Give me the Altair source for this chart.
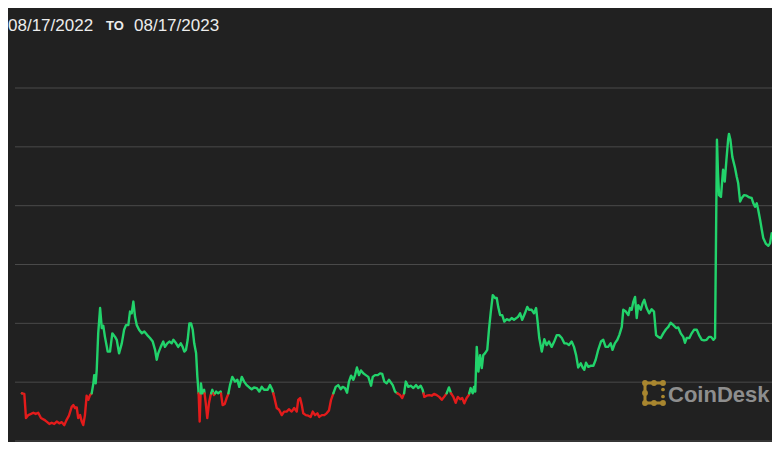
import altair as alt
import pandas as pd

# ---------------- data ----------------
start_label = "08/17/2022"
to_label = "TO"
end_label = "08/17/2023"
brand = "CoinDesk"
start_date = "2022-08-17"

# day offsets from 2022-08-17
days = [
    0, 1.1, 1.9, 3.0, 4.3, 5.4, 6.5, 7.7, 9.0, 10.6, 11.7, 13.0, 14.1, 15.3, 16.5, 17.7, 18.9, 20.1,
    21.2, 22.3, 23.6, 24.4, 25.2, 26.0, 26.7, 27.6, 28.4, 29.1, 29.9, 30.7, 31.5, 32.3, 33.1, 33.9,
    34.3, 35.0, 35.5, 36.2, 37.1, 37.9, 38.6, 39.4, 40.7, 41.8, 42.9, 44.2, 45.0, 46.1, 47.4, 48.5,
    49.4, 50.5, 51.3, 52.1, 52.9, 53.7, 54.5, 55.6, 56.9, 58.1, 59.5, 60.8, 62.1, 63.2, 64.0, 64.7,
    65.9, 67.1, 67.9, 69.0, 70.0, 71.1, 71.9, 73.2, 74.2, 75.4, 76.3, 77.1, 77.9, 78.7, 79.5, 80.3,
    81.1, 81.8, 82.7, 83.3, 83.9, 84.4, 85.0, 85.6, 86.5, 87.3, 88.0, 88.8, 89.6, 90.4, 91.2, 92.2,
    93.2, 94.4, 95.3, 96.3, 97.2, 98.0, 98.8, 99.9, 101.2, 102.3, 103.2, 104.4, 105.5, 106.7, 108.0,
    109.1, 110.2, 111.5, 112.7, 113.9, 115.0, 116.7, 117.8, 118.9, 119.8, 121.0, 122.1, 123.4, 124.5,
    125.7, 126.8, 128.1, 129.3, 130.5, 131.2, 132.1, 132.9, 133.6, 134.8, 136.0, 137.1, 138.1, 139.2,
    140.3, 141.2, 142.4, 143.6, 144.7, 145.8, 146.8, 147.9, 149.0, 150.2, 151.4, 152.3, 153.4, 154.4,
    155.3, 156.3, 157.4, 158.2, 159.1, 160.1, 161.0, 162.1, 163.3, 164.5, 165.8, 166.6, 167.7, 169.0,
    170.1, 171.1, 172.1, 173.2, 174.3, 176.1, 177.2, 178.3, 179.6, 180.6, 181.5, 182.3, 183.5, 184.6,
    185.9, 187.2, 188.2, 189.4, 190.3, 191.1, 192.2, 193.5, 194.6, 195.7, 197.0, 198.2, 199.4, 200.5,
    201.7, 202.8, 203.8, 204.9, 206.0, 207.0, 208.1, 209.1, 210.1, 211.2, 212.2, 213.1, 214.1, 214.7,
    215.3, 216.0, 216.8, 217.6, 218.4, 219.1, 219.9, 221.0, 221.8, 222.6, 223.6, 224.7, 225.5, 226.2,
    227.1, 228.1, 229.1, 230.2, 231.5, 232.6, 233.7, 235.6, 236.6, 237.6, 238.9, 240.0, 240.9, 242.1,
    243.2, 244.2, 245.0, 245.7, 246.9, 248.1, 249.2, 250.3, 251.6, 252.8, 254.0, 255.1, 256.4, 257.6,
    258.7, 259.8, 261.1, 262.2, 263.2, 264.2, 265.4, 266.3, 267.1, 267.9, 269.0, 270.3, 271.4, 272.5,
    273.7, 275.0, 276.1, 277.2, 278.4, 279.6, 280.5, 281.6, 282.8, 283.7, 284.9, 285.6, 286.8, 288.0,
    288.8, 289.6, 290.4, 291.2, 292.0, 292.7, 293.9, 294.8, 295.6, 296.7, 297.9, 299.1, 300.2, 301.2,
    302.2, 303.4, 304.6, 305.9, 307.0, 308.1, 309.4, 310.7, 311.7, 312.9, 314.1, 314.9, 315.7, 317.0,
    318.1, 319.2, 320.5, 321.6, 322.9, 324.0, 325.2, 326.3, 327.3, 328.4, 329.2, 330.1, 330.6, 331.1,
    332.0, 333.0, 333.8, 334.6, 335.4, 335.8, 336.5, 337.4, 338.7, 339.5, 340.2, 341.1, 341.9, 343.0,
    344.2, 345.5, 346.6, 347.4, 348.2, 349.0, 349.7, 350.6, 351.4, 352.1, 353.4, 354.5, 355.3, 356.1,
    356.9, 357.7, 358.8, 360.1,
]

prices = [
    0.381, 0.380, 0.339, 0.344, 0.346, 0.348, 0.346, 0.348, 0.339, 0.336, 0.333, 0.329, 0.331, 0.329,
    0.333, 0.330, 0.332, 0.327, 0.336, 0.343, 0.358, 0.361, 0.356, 0.357, 0.339, 0.344, 0.333, 0.327,
    0.344, 0.377, 0.370, 0.378, 0.381, 0.398, 0.412, 0.398, 0.421, 0.483, 0.526, 0.492, 0.496, 0.477,
    0.452, 0.452, 0.483, 0.477, 0.472, 0.449, 0.466, 0.489, 0.497, 0.497, 0.520, 0.517, 0.537, 0.511,
    0.497, 0.489, 0.483, 0.486, 0.480, 0.475, 0.469, 0.455, 0.438, 0.449, 0.460, 0.469, 0.460, 0.466,
    0.469, 0.466, 0.472, 0.466, 0.460, 0.466, 0.460, 0.452, 0.455, 0.472, 0.500, 0.500, 0.489, 0.466,
    0.449, 0.409, 0.381, 0.333, 0.398, 0.381, 0.387, 0.364, 0.339, 0.364, 0.378, 0.387, 0.378, 0.384,
    0.381, 0.384, 0.361, 0.363, 0.373, 0.380, 0.395, 0.409, 0.401, 0.404, 0.392, 0.409, 0.401, 0.395,
    0.391, 0.388, 0.391, 0.390, 0.384, 0.392, 0.387, 0.387, 0.395, 0.387, 0.375, 0.356, 0.353, 0.344,
    0.350, 0.350, 0.354, 0.350, 0.356, 0.350, 0.370, 0.373, 0.361, 0.347, 0.344, 0.343, 0.341, 0.350,
    0.344, 0.347, 0.341, 0.344, 0.344, 0.347, 0.352, 0.370, 0.381, 0.392, 0.395, 0.388, 0.392, 0.390,
    0.382, 0.401, 0.411, 0.404, 0.412, 0.425, 0.412, 0.420, 0.415, 0.412, 0.409, 0.394, 0.409, 0.412,
    0.412, 0.415, 0.414, 0.401, 0.398, 0.404, 0.395, 0.384, 0.381, 0.378, 0.373, 0.381, 0.401, 0.392,
    0.394, 0.390, 0.395, 0.390, 0.394, 0.387, 0.375, 0.377, 0.378, 0.377, 0.380, 0.378, 0.375, 0.370,
    0.375, 0.381, 0.391, 0.381, 0.375, 0.365, 0.375, 0.371, 0.373, 0.364, 0.373, 0.378, 0.390, 0.381,
    0.392, 0.384, 0.460, 0.418, 0.446, 0.424, 0.446, 0.449, 0.455, 0.489, 0.517, 0.548, 0.543, 0.543,
    0.528, 0.514, 0.514, 0.503, 0.507, 0.505, 0.509, 0.506, 0.511, 0.517, 0.506, 0.517, 0.528, 0.523,
    0.523, 0.517, 0.526, 0.500, 0.475, 0.452, 0.473, 0.463, 0.469, 0.460, 0.469, 0.480, 0.480, 0.475,
    0.466, 0.466, 0.463, 0.469, 0.460, 0.446, 0.425, 0.432, 0.425, 0.421, 0.433, 0.426, 0.428, 0.428,
    0.438, 0.455, 0.469, 0.472, 0.460, 0.460, 0.466, 0.455, 0.466, 0.472, 0.480, 0.494, 0.523, 0.520,
    0.514, 0.526, 0.523, 0.537, 0.545, 0.509, 0.531, 0.523, 0.534, 0.540, 0.526, 0.517, 0.524, 0.520,
    0.480, 0.477, 0.475, 0.483, 0.490, 0.494, 0.501, 0.497, 0.492, 0.493, 0.483, 0.477, 0.467, 0.475,
    0.475, 0.483, 0.489, 0.489, 0.480, 0.472, 0.471, 0.472, 0.477, 0.477, 0.472, 0.475, 0.812, 0.755,
    0.718, 0.715, 0.761, 0.741, 0.778, 0.812, 0.822, 0.812, 0.783, 0.764, 0.749, 0.738, 0.707, 0.713,
    0.718, 0.717, 0.714, 0.713, 0.704, 0.698, 0.704, 0.693, 0.676, 0.659, 0.645, 0.635, 0.632, 0.636,
    0.653, 0.647, 0.642, 0.639, 0.635,
]

grid_values = [0.3, 0.4, 0.5, 0.6, 0.7, 0.8, 0.9]

# ---------------- styling ----------------
BG = "#212121"
GREEN = "#22d36b"
RED = "#e31b1b"
GRID = "#4a4a4a"
TEXT = "#ececec"
GOLD = "#a8862f"
BRAND_GREY = "#8e8e8e"
FONT = "Liberation Sans"

W, H = 764, 434
DAY_MS = 86400000
t0 = pd.Timestamp(start_date).value // 10**6

# split the series where it crosses the opening price, so each run gets one colour
base = prices[0]


def side(v):
    return "up" if v >= base else "down"


rows = []
run = 0
cur = side(prices[0])
rows.append({"t": t0 + days[0] * DAY_MS, "price": prices[0], "run": run, "side": cur})
for i in range(1, len(days)):
    d0, v0, d1, v1 = days[i - 1], prices[i - 1], days[i], prices[i]
    s1 = side(v1)
    if s1 != cur:
        f = (base - v0) / (v1 - v0)
        dc = d0 + f * (d1 - d0)
        rows.append({"t": t0 + dc * DAY_MS, "price": base, "run": run, "side": cur})
        run += 1
        cur = s1
        rows.append({"t": t0 + dc * DAY_MS, "price": base, "run": run, "side": cur})
    rows.append({"t": t0 + d1 * DAY_MS, "price": v1, "run": run, "side": cur})
df = pd.DataFrame(rows)

x_scale = alt.Scale(domain=[t0 - 6.65 * DAY_MS, t0 + 356.25 * DAY_MS])
y_scale = alt.Scale(domain=[0.2983, 1.036], zero=False, nice=False)

grid = alt.Chart(pd.DataFrame({"price": grid_values})).mark_rule(
    color=GRID, strokeWidth=1
).encode(
    y=alt.Y("price:Q", scale=y_scale, axis=None),
    x=alt.value(7),
    x2=alt.value(W),
)

line = alt.Chart(df).mark_line(
    strokeWidth=2.4, clip=True, strokeJoin="round", strokeCap="round"
).encode(
    x=alt.X("t:T", scale=x_scale, axis=None),
    y=alt.Y("price:Q", scale=y_scale, axis=None),
    detail="run:N",
    color=alt.Color(
        "side:N",
        scale=alt.Scale(domain=["up", "down"], range=[GREEN, RED]),
        legend=None,
    ),
)


def label(txt, x, y, size, weight="normal", color=TEXT):
    return alt.Chart(pd.DataFrame({"label": [txt]})).mark_text(
        align="left", baseline="alphabetic", font=FONT, fontSize=size,
        fontWeight=weight, color=color, clip=True,
    ).encode(x=alt.value(x), y=alt.value(y), text="label:N")


t_start = label(start_label, 0, 22.7, 17)
t_to = label(to_label, 98, 21.5, 13, "bold")
t_end = label(end_label, 126, 22.7, 17)

# watermark: logo (bracket of gold dots) + brand word
one = pd.DataFrame({"k": [0]})
LX0, LX1, LY0, LY1 = 637, 655, 375, 395


def bar(x1, x2, y1, y2):
    return alt.Chart(one).mark_rule(color=GOLD, strokeWidth=3, strokeCap="round").encode(
        x=alt.value(x1), x2=alt.value(x2), y=alt.value(y1), y2=alt.value(y2))


def dot(x, y, size=34):
    return alt.Chart(one).mark_circle(color=GOLD, opacity=1, size=size).encode(
        x=alt.value(x), y=alt.value(y))


logo = alt.layer(
    bar(LX0, LX0, LY0, LY1),
    bar(LX0, LX1, LY0, LY0),
    bar(LX0, LX1, LY1, LY1),
    dot(LX0, LY0), dot(LX1, LY0), dot(LX0, LY1), dot(LX1, LY1),
    dot(646, LY0), dot(646, LY1),
    dot(LX0, 385), dot(LX1, 381.5, 14), dot(LX1, 388.5, 14),
)
brand_text = label(brand, 660, 393.7, 22, "bold", BRAND_GREY)

chart = alt.layer(
    grid, line, t_start, t_to, t_end, logo, brand_text
).properties(
    width=W, height=H, padding=0,
    autosize=alt.AutoSizeParams(type="none"),
    background=BG,
).configure_view(strokeWidth=0)

chart.save("out.html", embed_options={"renderer": "svg", "actions": False})
